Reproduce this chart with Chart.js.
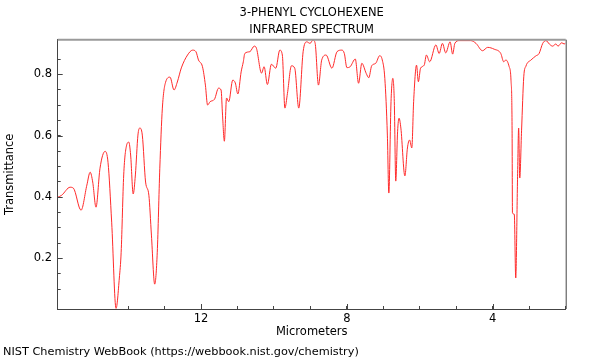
<!DOCTYPE html>
<html>
<head>
<meta charset="utf-8">
<script src="https://cdn.jsdelivr.net/npm/chart.js@4.4.0/dist/chart.umd.min.js"></script>
<style>
  html, body { margin: 0; padding: 0; background: #fff; }
  #wrap { width: 600px; height: 360px; }
</style>
</head>
<body>
<div id="wrap"><canvas id="spectrum" width="600" height="360"></canvas></div>
<script>
const titleLines = ['3-PHENYL CYCLOHEXENE', 'INFRARED SPECTRUM'];
const sourceNote = 'NIST Chemistry WebBook (https://webbook.nist.gov/chemistry)';

// wavelength (µm) from left to right
const micrometers = [15.93, 15.82, 15.59, 15.50, 15.29, 15.13, 15.04, 14.97, 14.88, 14.77,
  14.63, 14.55, 14.45, 14.33, 14.24, 14.19, 14.12, 14.04, 13.98, 13.93,
  13.86, 13.80, 13.73, 13.68, 13.61, 13.52, 13.43, 13.36, 13.27, 13.20,
  13.13, 13.06, 12.97, 12.85, 12.74, 12.65, 12.54, 12.37, 12.23, 12.14,
  12.07, 11.96, 11.88, 11.82, 11.75, 11.63, 11.52, 11.45, 11.41, 11.36,
  11.30, 11.24, 11.13, 11.06, 10.99, 10.90, 10.84, 10.80, 10.66, 10.54,
  10.48, 10.34, 10.27, 10.18, 10.07, 9.95, 9.84, 9.77, 9.70, 9.63,
  9.52, 9.43, 9.32, 9.20, 9.10, 9.01, 8.93, 8.87, 8.78, 8.69,
  8.57, 8.41, 8.27, 8.14, 8.07, 8.00, 7.91, 7.77, 7.68, 7.59,
  7.47, 7.40, 7.32, 7.21, 7.10, 7.03, 6.96, 6.89, 6.85, 6.79,
  6.74, 6.70, 6.66, 6.61, 6.57, 6.52, 6.41, 6.34, 6.28, 6.22,
  6.17, 6.09, 6.04, 5.98, 5.88, 5.82, 5.73, 5.56, 5.47, 5.38,
  5.29, 5.17, 5.10, 5.04, 4.92, 4.60, 4.46, 4.28, 4.14, 3.96,
  3.78, 3.70, 3.64, 3.55, 3.50, 3.47, 3.46, 3.41, 3.37, 3.32,
  3.29, 3.26, 3.21, 3.15, 3.09, 2.95, 2.82, 2.73, 2.63, 2.54,
  2.45, 2.36, 2.27, 2.21, 2.11, 2.04, 2.00];

const transmittance = [0.399, 0.406, 0.432, 0.429, 0.357, 0.439, 0.481, 0.449, 0.367, 0.494,
  0.549, 0.513, 0.318, 0.037, 0.136, 0.220, 0.472, 0.569, 0.579, 0.537,
  0.410, 0.472, 0.602, 0.625, 0.602, 0.449, 0.406, 0.276, 0.116, 0.220,
  0.494, 0.690, 0.775, 0.791, 0.749, 0.775, 0.821, 0.863, 0.879, 0.874,
  0.847, 0.825, 0.765, 0.700, 0.711, 0.719, 0.755, 0.749, 0.667, 0.582,
  0.723, 0.711, 0.781, 0.772, 0.736, 0.808, 0.841, 0.868, 0.874, 0.892,
  0.885, 0.804, 0.825, 0.767, 0.833, 0.820, 0.879, 0.863, 0.690, 0.738,
  0.828, 0.820, 0.690, 0.874, 0.906, 0.901, 0.912, 0.901, 0.765, 0.847,
  0.863, 0.820, 0.874, 0.879, 0.868, 0.822, 0.825, 0.850, 0.771, 0.836,
  0.803, 0.789, 0.828, 0.836, 0.861, 0.847, 0.787, 0.602, 0.413, 0.711,
  0.787, 0.711, 0.452, 0.613, 0.657, 0.625, 0.469, 0.560, 0.586, 0.560,
  0.711, 0.830, 0.776, 0.820, 0.830, 0.863, 0.841, 0.896, 0.868, 0.901,
  0.870, 0.906, 0.866, 0.901, 0.910, 0.910, 0.901, 0.877, 0.888, 0.882,
  0.868, 0.841, 0.847, 0.825, 0.781, 0.618, 0.348, 0.344, 0.136, 0.466,
  0.625, 0.462, 0.618, 0.792, 0.827, 0.847, 0.860, 0.868, 0.901, 0.910,
  0.899, 0.892, 0.899, 0.892, 0.903, 0.899, 0.903];

const xLabels = [12, 8, 4];
const yLabels = [0.2, 0.4, 0.6, 0.8];

const font = { family: '"DejaVu Sans", sans-serif', size: 11.5 };

// top/right frame, long major ticks and the text around the plot
const frame = {
  id: 'frame',
  afterDraw(chart) {
    const { ctx, chartArea: a, scales } = chart;
    ctx.save();
    ctx.strokeStyle = '#9a9a9a';
    ctx.lineWidth = 2;
    ctx.beginPath();
    ctx.moveTo(a.left, a.top);
    ctx.lineTo(a.right, a.top);
    ctx.stroke();
    ctx.strokeStyle = '#444';
    ctx.lineWidth = 1;
    ctx.beginPath();
    ctx.moveTo(a.right + 0.5, a.top);
    ctx.lineTo(a.right + 0.5, a.bottom);
    xLabels.forEach(v => {
      const px = Math.round(scales.x.getPixelForValue(v)) + 0.5;
      ctx.moveTo(px, a.bottom);
      ctx.lineTo(px, a.bottom - 5);
    });
    yLabels.forEach(v => {
      const py = Math.round(scales.y.getPixelForValue(v)) + 0.5;
      ctx.moveTo(a.left, py);
      ctx.lineTo(a.left + 5, py);
    });
    ctx.stroke();

    ctx.fillStyle = '#000';
    ctx.font = '11.5px "DejaVu Sans", sans-serif';
    ctx.textBaseline = 'middle';
    ctx.textAlign = 'center';
    const cx = (a.left + a.right) / 2;
    ctx.fillText(titleLines[0], cx, 13);
    ctx.fillText(titleLines[1], cx, 30);
    ctx.textAlign = 'left';
    ctx.font = '11.3px "DejaVu Sans", sans-serif';
    ctx.fillText(sourceNote, 3, 352);
    ctx.restore();
  }
};

new Chart(document.getElementById('spectrum'), {
  type: 'line',
  data: {
    datasets: [{
      data: micrometers.map((m, i) => ({ x: m, y: transmittance[i] })),
      borderColor: '#ff2a2a',
      borderWidth: 1,
      pointRadius: 0,
      fill: false,
      cubicInterpolationMode: 'monotone'
    }]
  },
  options: {
    responsive: false,
    animation: false,
    devicePixelRatio: 1,
    layout: { padding: { top: 39.7, bottom: 20.8, left: 0, right: 34.3 } },
    plugins: { legend: { display: false }, tooltip: { enabled: false } },
    scales: {
      x: {
        type: 'linear',
        reverse: true,
        min: 2,
        max: 15.93,
        afterFit: s => { s.height = 30.2; },
        border: { display: true, color: '#444', width: 1 },
        grid: { display: true, drawOnChartArea: false, drawTicks: true, tickLength: -3, tickColor: '#444' },
        ticks: {
          stepSize: 1,
          autoSkip: false,
          maxRotation: 0,
          padding: 6,
          color: '#000',
          font,
          callback: v => xLabels.includes(Math.round(v * 100) / 100) ? String(v) : ''
        },
        title: { display: true, text: 'Micrometers', color: '#000', font, padding: { top: 0, bottom: 0 } }
      },
      y: {
        min: 0.035,
        max: 0.913,
        afterFit: s => { s.width = 57.7; },
        border: { display: true, color: '#444', width: 1 },
        grid: { display: true, drawOnChartArea: false, drawTicks: true, tickLength: -3, tickColor: '#444' },
        ticks: {
          stepSize: 0.05,
          autoSkip: false,
          padding: 8.7,
          color: '#000',
          font,
          callback: v => {
            const r = Math.round(v * 100) / 100;
            return yLabels.includes(r) ? r.toFixed(1) : '';
          }
        },
        title: { display: true, text: 'Transmittance', color: '#000', font, padding: { top: 3, bottom: 0 } }
      }
    }
  },
  plugins: [frame]
});
</script>
</body>
</html>
